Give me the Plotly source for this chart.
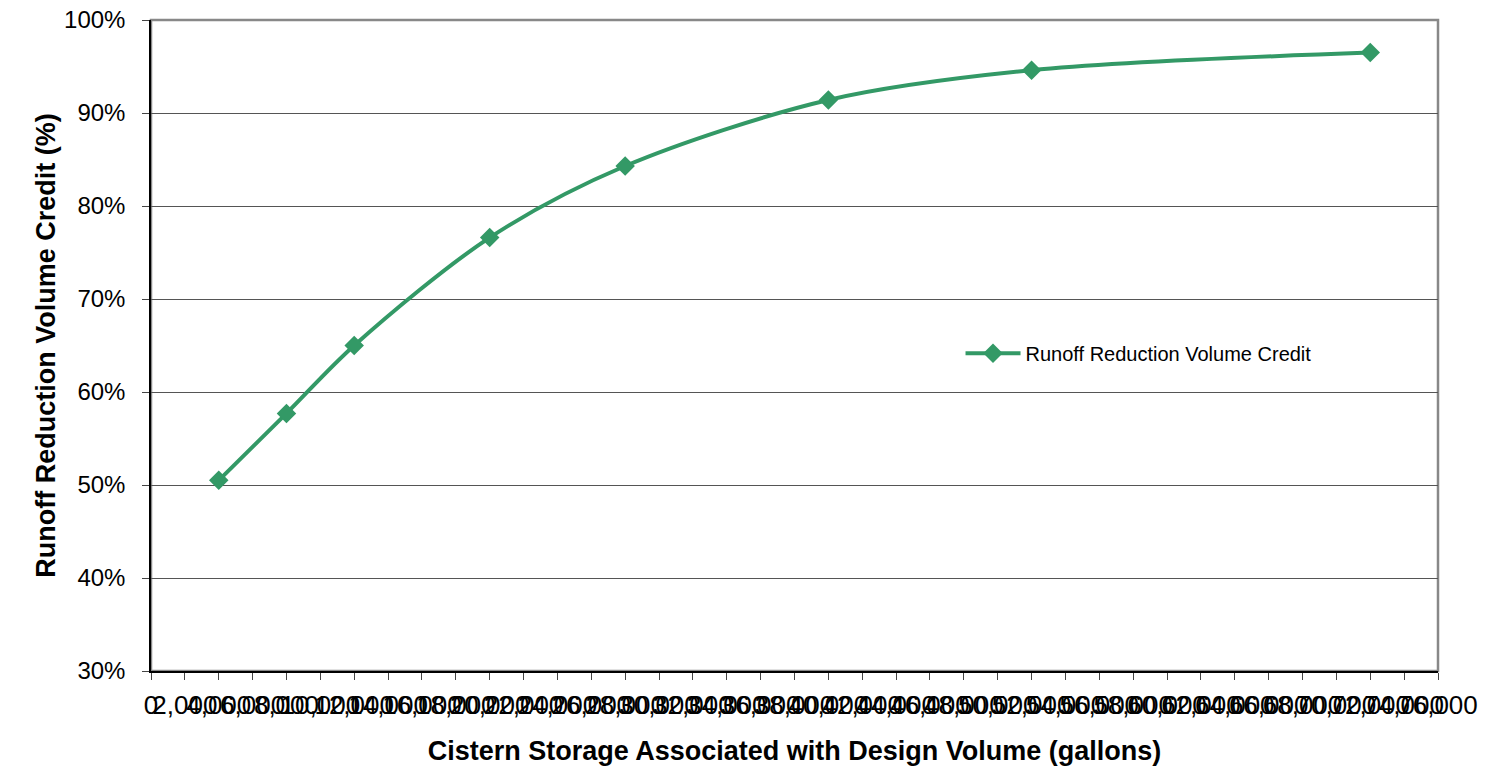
import plotly.graph_objects as go

storage_gal = [4000, 8000, 12000, 20000, 28000, 40000, 52000, 72000]
credit_pct = [50.5, 57.7, 65.0, 76.6, 84.3, 91.4, 94.6, 96.5]
x_ticks = list(range(0, 76001, 2000))
x_tick_labels = [f"{v:,}" for v in x_ticks]
y_ticks = [30, 40, 50, 60, 70, 80, 90, 100]
y_tick_labels = [f"{v}%" for v in y_ticks]

green = "#339966"
font = "Liberation Sans, Arial, sans-serif"

fig = go.Figure()
fig.add_trace(go.Scatter(
    x=storage_gal, y=credit_pct, mode="lines+markers",
    name="Runoff Reduction Volume Credit",
    line=dict(color=green, width=4, shape="spline", smoothing=0.9),
    marker=dict(symbol="diamond", size=15, color=green),
))

fig.add_shape(type="rect", xref="paper", yref="paper", x0=0, y0=0, x1=1, y1=1,
              line=dict(color="#888888", width=2.5), layer="below")

fig.update_layout(
    width=1486, height=772,
    margin=dict(l=143, r=56, t=12, b=109),
    paper_bgcolor="white", plot_bgcolor="white",
    font=dict(family=font, color="black"),
    showlegend=True,
    legend=dict(x=0.629, y=0.488, xanchor="left", yanchor="middle",
                bgcolor="rgba(0,0,0,0)", font=dict(size=20, family=font),
                itemwidth=55),
    xaxis=dict(
        range=[0, 76000], tickvals=x_ticks, ticktext=x_tick_labels, tickangle=0,
        tickfont=dict(size=26), ticks="outside", ticklen=7, tickcolor="#444",
        ticklabelstandoff=3, ticklabeloverflow="allow",
        showline=True, linecolor="black", linewidth=1.5, showgrid=False, zeroline=False,
        automargin=False,
        title=dict(text="<b>Cistern Storage Associated with Design Volume (gallons)</b>",
                   font=dict(size=27), standoff=22),
    ),
    yaxis=dict(
        range=[30, 100], tickvals=y_ticks, ticktext=y_tick_labels,
        tickfont=dict(size=24), ticks="outside", ticklen=7, tickcolor="#444",
        ticklabelstandoff=12, ticklabeloverflow="allow",
        showline=True, linecolor="black", linewidth=1.5, automargin=False,
        showgrid=True, gridcolor="#555555", gridwidth=0.8, zeroline=False,
        title=dict(text="<b>Runoff Reduction Volume Credit (%)</b>",
                   font=dict(size=27), standoff=1),
    ),
)

fig.write_html("out.html")
